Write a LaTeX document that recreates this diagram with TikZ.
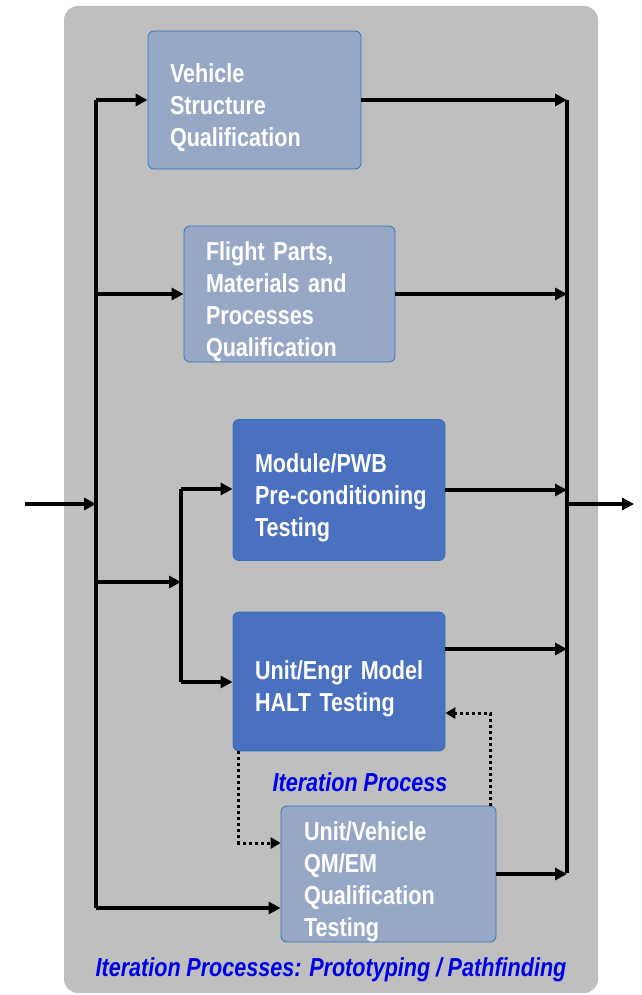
\documentclass[tikz,border=0pt]{standalone}
\usepackage{fontspec}
\usepackage{tikz}
\usetikzlibrary{arrows.meta, positioning, calc}
\newfontfamily\boxfont{Liberation Sans}[FakeStretch=0.83, WordSpace=0.75]
\newfontfamily\notefont{Liberation Sans}[FakeStretch=0.83, WordSpace=0.95]
\definecolor{panelgray}{RGB}{191, 191, 191}
\definecolor{paleblue}{RGB}{151, 168, 199}
\definecolor{deepblue}{RGB}{74, 112, 192}
\definecolor{rimblue}{RGB}{46, 117, 182}
\definecolor{notebl}{RGB}{0, 0, 230}
\tikzset{
  stage/.style={
    draw=rimblue,
    line width=0.8pt,
    rounded corners=6pt,
    inner xsep=22pt,
    inner ysep=0pt,
    align=left,
    text=white,
    font=\boxfont\fontsize{26}{32}\selectfont\bfseries,
    execute at begin node={\rule{0pt}{34pt}}
  },
  pale/.style={stage, fill=paleblue},
  deep/.style={stage, fill=deepblue},
  bus/.style={
    line width=3.2pt,
    draw=black
  },
  flow/.style={
    bus,
    -{Triangle[length=12pt, width=12pt]}
  },
  iterate/.style={
    line width=3pt,
    dash pattern=on 3pt off 3pt,
    -{Triangle[length=10pt, width=11pt]}
  },
  note/.style={
    text=notebl,
    font=\notefont\fontsize{26}{28}\selectfont\bfseries\itshape
  }
}
\begin{document}
\begin{tikzpicture}[x=1pt, y=-1pt]
  \useasboundingbox (0,0) rectangle (641,995);
  % backdrop
  \fill[panelgray, rounded corners=14pt] (64,6) rectangle (598,993);

  % stages
  \node[pale, minimum width=213pt, minimum height=138pt, text width=169pt] (vsq) at (254.5,100)
    {Vehicle\\Structure\\Qualification};
  \node[pale, minimum width=211pt, minimum height=136pt, text width=167pt] (fpq) at (289.5,294)
    {Flight Parts,\\Materials and\\Processes\\Qualification};
  \node[deep, minimum width=212pt, minimum height=141pt, text width=168pt] (pwb) at (339,490)
    {Module/PWB\\\mbox{Pre-conditioning}\\Testing};
  \node[deep, minimum width=212pt, minimum height=139pt, text width=168pt] (halt) at (339,681.5)
    {\mbox{Unit/Engr Model}\\HALT Testing};
  \node[pale, minimum width=215pt, minimum height=136pt, text width=169pt] (qmem) at (388.5,874)
    {Unit/Vehicle\\QM/EM\\Qualification\\Testing};

  \node[note] (loop) at (360,782) {Iteration Process};
  \node[note] (proto) at (331,970) {Iteration Processes: Prototyping / Pathfinding};

  % buses
  \coordinate (in) at (25,504);
  \coordinate (out) at (634,504);
  \coordinate (ltop) at (96,100);
  \coordinate (lbot) at (96,908);
  \coordinate (split) at (96,582);
  \coordinate (mtop) at (181,489);
  \coordinate (mbot) at (181,682);
  \coordinate (rtop) at (567,100);
  \coordinate (rbot) at (567,873);

  \draw[bus] (ltop) -- (lbot);
  \draw[bus] (mtop) -- (mbot);
  \draw[bus] (rtop) -- (rbot);

  \draw[flow] (in) -- (in -| ltop);
  \draw[flow] (rtop |- out) -- (out);

  % fan out
  \draw[flow] (ltop) -- (vsq.west);
  \draw[flow] (ltop |- fpq.west) -- (fpq.west);
  \draw[flow] (split) -- (split -| mtop);
  \draw[flow] (mtop) -- (mtop -| pwb.west);
  \draw[flow] (mbot) -- (mbot -| halt.west);
  \draw[flow] (lbot) -- (lbot -| qmem.west);

  % fan in
  \draw[flow] (vsq.east) -- (vsq.east -| rtop);
  \draw[flow] (fpq.east) -- (fpq.east -| rtop);
  \draw[flow] (pwb.east) -- (pwb.east -| rtop);
  \draw[flow] ([yshift=32.5pt]halt.east) -- ([yshift=32.5pt]halt.east -| rtop);
  \draw[flow] (qmem.east) -- (qmem.east -| rtop);

  % iteration loop
  \draw[iterate] ([xshift=6pt]halt.south west) |- ([yshift=31pt]qmem.west);
  \draw[iterate] ([xshift=-6pt]qmem.north east) |- ([yshift=-31.5pt]halt.east);
\end{tikzpicture}
\end{document}
